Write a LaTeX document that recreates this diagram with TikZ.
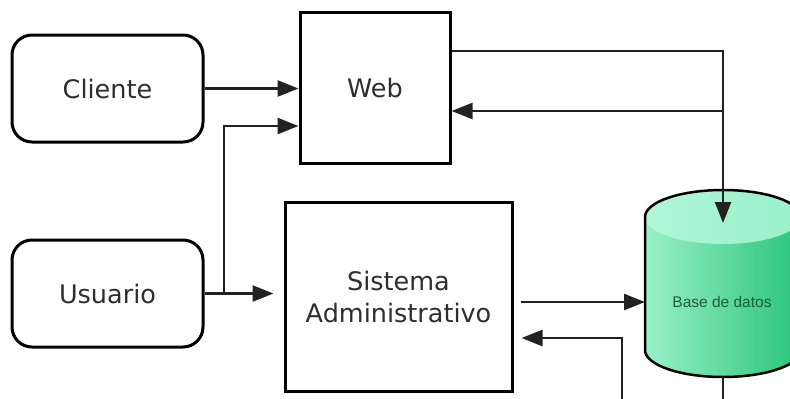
\documentclass[tikz,border=0pt]{standalone}
\usepackage{fontspec}
\setmainfont{DejaVu Sans}
\newfontfamily\smallfont{Liberation Sans}
\usetikzlibrary{arrows.meta,calc}
\definecolor{txt}{HTML}{2E2E2E}
\definecolor{ln}{HTML}{222222}
\definecolor{dbL}{HTML}{9AF0C8}
\definecolor{dbR}{HTML}{28C478}
\definecolor{dbTopL}{HTML}{B0F6D8}
\definecolor{dbTopR}{HTML}{98F0C8}
\definecolor{dbtxt}{HTML}{1B5E3C}
\tikzset{
  actor/.style={draw=black, line width=3pt, rounded corners=20pt, fill=white,
    minimum width=191pt, minimum height=107pt, inner sep=0pt,
    font=\fontsize{25.5}{32}\selectfont, text=txt},
  procbox/.style={draw=black, line width=3pt, fill=white, inner sep=0pt,
    font=\fontsize{25.5}{32}\selectfont, text=txt, align=center},
  arr/.style={draw=ln, line width=2.5pt, -{Triangle[length=21pt,width=16pt]}},
  plain/.style={draw=ln, line width=2.5pt}
}
\begin{document}
\begin{tikzpicture}[x=1pt,y=-1pt]
\useasboundingbox (0,0) rectangle (790,399);
\clip (0,0) rectangle (790,399);
\fill[white] (0,0) rectangle (790,399);

% nodes
\node[actor] (cliente) at (107.5,88.5) {Cliente};
\node[actor] (usuario) at (107.5,293.5) {Usuario};
\node[procbox, minimum width=150pt, minimum height=151pt] (web) at (375,87.5) {Web};
\node[procbox, minimum width=227pt, minimum height=189pt] (sis) at (398.5,296.5) {Sistema\\Administrativo};

% database cylinder
\shade[left color=dbL, right color=dbR]
  (645,217) -- (645,350) arc[start angle=180, end angle=0, x radius=78, y radius=27]
  -- (801,217) -- cycle;
\shade[left color=dbTopL, right color=dbTopR]
  (723,217) ellipse[x radius=78, y radius=27];
\draw[black, line width=2.5pt]
  (801,217) arc[start angle=0, end angle=-180, x radius=78, y radius=27]
  -- (645,350) arc[start angle=180, end angle=0, x radius=78, y radius=27] -- cycle;
\node[font=\smallfont\fontsize{15.5}{18}\selectfont, text=dbtxt] (db) at (722,302) {Base de datos};

% coordinates on the database
\coordinate (dbtop) at (723,223);
\coordinate (dbret) at (723,111);
\coordinate (dbleft) at (645,302);
\coordinate (dbout) at (622,405);
\coordinate (dbturn) at (622,338);
\coordinate (dbbot) at (723,377);
\coordinate (dbbotend) at (723,405);
\coordinate (ujoin) at (224,293.5);

% connectors
\draw[arr] (cliente.east) -- (cliente.east -| web.west);
\draw[arr] (ujoin) |- ([yshift=-38.5pt]web.west);
\draw[arr, shorten >=10pt] (usuario.east) -- (usuario.east -| sis.west);
\draw[arr] ([yshift=36.5pt]web.east) -| (dbtop);
\draw[arr] (dbret) -- (dbret -| web.east);
\draw[arr, shorten <=7pt] (dbleft -| sis.east) -- (dbleft);
\draw[arr, shorten >=8pt] (dbout) -- (dbturn) -- (dbturn -| sis.east);
\draw[plain] (dbbot) -- (dbbotend);
\end{tikzpicture}
\end{document}
